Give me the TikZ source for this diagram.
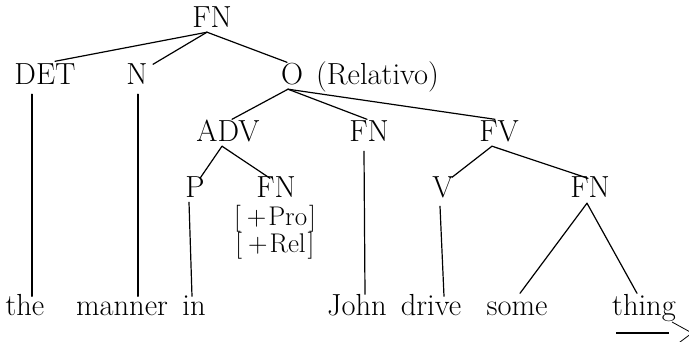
\documentclass[tikz,border=0pt]{standalone}
\usepackage{fontspec}
\begin{document}
\begin{tikzpicture}[x=1pt,y=-1pt,
  lab/.style={anchor=base,inner xsep=0pt,inner ysep=4pt,text height=18.5pt,text depth=0pt,font=\fontsize{30.5}{36}\selectfont},
  feat/.style={anchor=base,inner sep=0pt,text height=20pt,text depth=6.6pt,font=\fontsize{27}{27}\selectfont},
  edge/.style={line width=1.2pt,line cap=round}]
\useasboundingbox (0,0) rectangle (689,342);
\fill[white] (0,0) rectangle (689,342);
% level 0
\node[lab] (fn0) at (212,28) {FN};
% level 1
\node[lab] (det) at (45,85) {DET};
\node[lab] (n) at (137,85) {N};
\node[lab] (o) at (292,85) {O};
\node[lab,anchor=base west] (rel) at (316,85) {(Relativo)};
% level 2
\node[lab] (adv) at (228,142) {ADV};
\node[lab] (fnm) at (369,142) {FN};
\node[lab] (fv) at (499,142) {FV};
% level 3
\node[lab] (p) at (195,198) {P};
\node[lab] (fna) at (276,198) {FN};
\node[lab] (v) at (443,198) {V};
\node[lab] (fnr) at (590,198) {FN};
\node[feat] (pro) at (275,226) {[\kern6pt+\kern2pt Pro\kern2pt]};
\node[feat] (relf) at (275,253) {[\kern6pt+\kern2pt Rel\kern2pt]};
% leaves
\node[lab] (the) at (25,316) {the};
\node[lab] (manner) at (122,316) {manner};
\node[lab] (in) at (194,316) {in};
\node[lab] (john) at (357,316) {John};
\node[lab] (drive) at (431,316) {drive};
\node[lab] (some) at (517,316) {some};
\node[lab] (thing) at (644,316) {thing};
% connectors
\draw[edge] ([xshift=-5pt]fn0.south) -- ([shift={(10pt,1pt)}]det.north);
\draw[edge] ([xshift=-5pt]fn0.south) -- ([shift={(16pt,-2pt)}]n.north);
\draw[edge] ([xshift=-5pt]fn0.south) -- ([xshift=-5pt]o.north);
\draw[edge] ([xshift=-4pt]o.south) -- ([xshift=4pt]adv.north);
\draw[edge] ([xshift=-4pt]o.south) -- ([xshift=-2pt]fnm.north);
\draw[edge] ([xshift=-4pt]o.south) -- ([xshift=-4pt]fv.north);
\draw[edge] ([xshift=-6pt]adv.south) -- ([shift={(5pt,-3pt)}]p.north);
\draw[edge] ([xshift=-6pt]adv.south) -- ([shift={(-6pt,-3pt)}]fna.north);
\draw[edge] ([xshift=-7pt]fv.south) -- ([shift={(9pt,-2pt)}]v.north);
\draw[edge] ([xshift=-7pt]fv.south) -- ([shift={(-2pt,-3pt)}]fnr.north);
\draw[edge] ([shift={(-3pt,-1pt)}]fnr.south) -- ([xshift=3pt]some.north);
\draw[edge] ([shift={(-3pt,-1pt)}]fnr.south) -- ([xshift=-7pt]thing.north);
\draw[edge] ([shift={(-13pt,-5pt)}]det.south) -- ([shift={(7pt,-3pt)}]the.north);
\draw[edge] ([shift={(1pt,-5pt)}]n.south) -- ([shift={(16pt,-3pt)}]manner.north);
\draw[edge] ([xshift=-6pt]p.south) -- ([shift={(-2pt,-3pt)}]in.north);
\draw[edge] ([shift={(-5pt,-5pt)}]fnm.south) -- ([shift={(8pt,-1pt)}]john.north);
\draw[edge] ([shift={(-3pt,-4pt)}]v.south) -- ([shift={(13pt,-3pt)}]drive.north);
% cut-off mark at the lower right
\coordinate (ua) at (616,333);
\coordinate (ub) at (669,333);
\draw[line width=1.5pt] (ua) -- (ub);
\begin{scope}
\clip (0,0) rectangle (689,342);
\coordinate (aa) at (672,322);
\coordinate (ab) at (692,333);
\coordinate (ac) at (676,345);
\draw[line width=0.8pt] (aa) -- (ab) -- (ac);
\end{scope}
\end{tikzpicture}
\end{document}
